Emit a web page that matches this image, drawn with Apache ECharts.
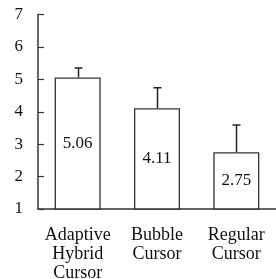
<!DOCTYPE html>
<html>
<head>
<meta charset="utf-8">
<style>
  html, body { margin: 0; padding: 0; background: #fff; }
  #main { width: 276px; height: 279px; }
</style>
<script src="https://cdn.jsdelivr.net/npm/echarts@6/dist/echarts.min.js"></script>
</head>
<body>
<div id="main"></div>
<script>
// 数据
var categories = ['Adaptive\nHybrid\nCursor', 'Bubble\nCursor', 'Regular\nCursor'];
var means = [5.06, 4.11, 2.75];
var errUp = [0.29, 0.63, 0.84];
var yMin = 1, yMax = 7, yStep = 1;

var serif = 'Liberation Serif';
var errData = means.map(function(m, i){ return [i, m, m + errUp[i]]; });

var myChart = echarts.init(document.getElementById('main'));
var option = {
    animation: false,
    grid: { left: 38, right: 0, top: 14.5, bottom: 70, outerBoundsMode: 'none' },
    xAxis: {
        type: 'category',
        data: categories,
        axisLine: { lineStyle: { color: '#333', width: 1.5 } },
        axisTick: { inside: true, length: 5, lineStyle: { color: '#333', width: 1.2 } },
        axisLabel: { interval: 0, hideOverlap: false, fontFamily: serif, fontSize: 18, color: '#111', lineHeight: 19, margin: 17 }
    },
    yAxis: {
        type: 'value',
        min: yMin, max: yMax, interval: yStep,
        splitLine: { show: false },
        axisLine: { show: true, lineStyle: { color: '#333', width: 1.5 } },
        axisTick: { show: true, inside: true, length: 6, lineStyle: { color: '#333', width: 1.2 } },
        axisLabel: { fontFamily: serif, fontSize: 17, color: '#111', margin: 15 }
    },
    series: [
        {
            type: 'bar',
            data: means,
            barWidth: 46,
            itemStyle: { color: '#fff', borderColor: '#333', borderWidth: 1.3 },
            label: {
                show: true, position: 'inside',
                fontFamily: serif, fontSize: 17, color: '#111',
                formatter: function(p){ return p.value.toFixed(2); }
            }
        },
        {
            // 误差线
            type: 'custom',
            data: errData,
            z: 5,
            renderItem: function(params, api){
                var lo = api.coord([api.value(0), api.value(1)]);
                var hi = api.coord([api.value(0), api.value(2)]);
                var x = Math.round(lo[0]) + 0.5;
                var st = { stroke: '#222', lineWidth: 1.5 };
                return {
                    type: 'group',
                    children: [
                        { type: 'line', shape: { x1: x, y1: lo[1], x2: x, y2: hi[1] }, style: st },
                        { type: 'line', shape: { x1: x - 4, y1: hi[1], x2: x + 4, y2: hi[1] }, style: st }
                    ]
                };
            }
        }
    ]
};
myChart.setOption(option);
</script>
</body>
</html>
